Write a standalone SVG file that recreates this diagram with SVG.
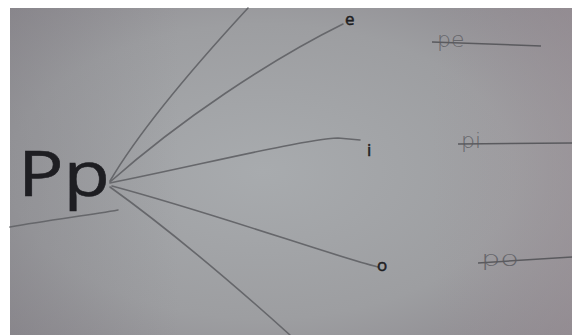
<svg xmlns="http://www.w3.org/2000/svg" width="572" height="335" viewBox="0 0 572 335">
<defs>
<radialGradient id="bg" cx="0.45" cy="0.5" r="0.75">
<stop offset="0" stop-color="#a8abae"/>
<stop offset="0.6" stop-color="#9d9ea1"/>
<stop offset="1" stop-color="#8a868c"/>
</radialGradient>
<linearGradient id="tint" x1="0" y1="0" x2="1" y2="0">
<stop offset="0" stop-color="#7c7a80" stop-opacity="0.35"/>
<stop offset="0.3" stop-color="#7c7a80" stop-opacity="0"/>
<stop offset="0.75" stop-color="#a0949a" stop-opacity="0"/>
<stop offset="1" stop-color="#a0949a" stop-opacity="0.4"/>
</linearGradient>
</defs>
<style>
.ln{fill:none;stroke:#66676b;stroke-width:1.6;stroke-linecap:round}
.ul{fill:none;stroke:#5a5a5e;stroke-width:1.5}
.big{font-family:"Open Sans","DejaVu Sans",sans-serif;font-size:62px;fill:#1e1e22;stroke:#1e1e22;stroke-width:0.6}
.v{font-family:"Open Sans","DejaVu Sans",sans-serif;font-size:17px;fill:#1e1e22;stroke:#1e1e22;stroke-width:0.5}
.hw{font-family:"DejaVu Sans",sans-serif;font-weight:300;font-size:22px;fill:#66666b}
</style>
<rect width="572" height="335" fill="#ffffff"/>
<rect x="10" y="8" width="562" height="327" fill="url(#bg)"/>
<rect x="10" y="8" width="562" height="327" fill="url(#tint)"/>
<g id="connectors">
<path class="ln" d="M110,181 C140,130 200,60 248,8"/>
<path class="ln" d="M110,182 C180,120 270,60 343,24"/>
<path class="ln" d="M110,183 C200,165 300,140 338,138 L360,140"/>
<path class="ln" d="M112,186 C220,215 330,255 378,267"/>
<path class="ln" d="M110,187 C170,230 240,290 290,335"/>
<path class="ln" d="M10,227 C50,220 90,215 118,210"/>
</g>
<g id="node-Pp"><text class="big" x="18" y="196" textLength="92" lengthAdjust="spacingAndGlyphs">Pp</text></g>
<g id="node-e"><text class="v" x="345" y="25">e</text></g>
<g id="node-i"><text class="v" x="367" y="156">i</text></g>
<g id="node-o"><text class="v" x="377" y="271">o</text></g>
<g id="answer-pe">
<text class="hw" x="437" y="47">pe</text>
<path class="ul" d="M432,42 L541,46"/>
</g>
<g id="answer-pi">
<text class="hw" x="461" y="148">pi</text>
<path class="ul" d="M458,144 L572,143"/>
</g>
<g id="answer-po">
<text class="hw" x="481" y="266" textLength="38" lengthAdjust="spacingAndGlyphs">po</text>
<path class="ul" d="M478,263 L572,257"/>
</g>
</svg>
